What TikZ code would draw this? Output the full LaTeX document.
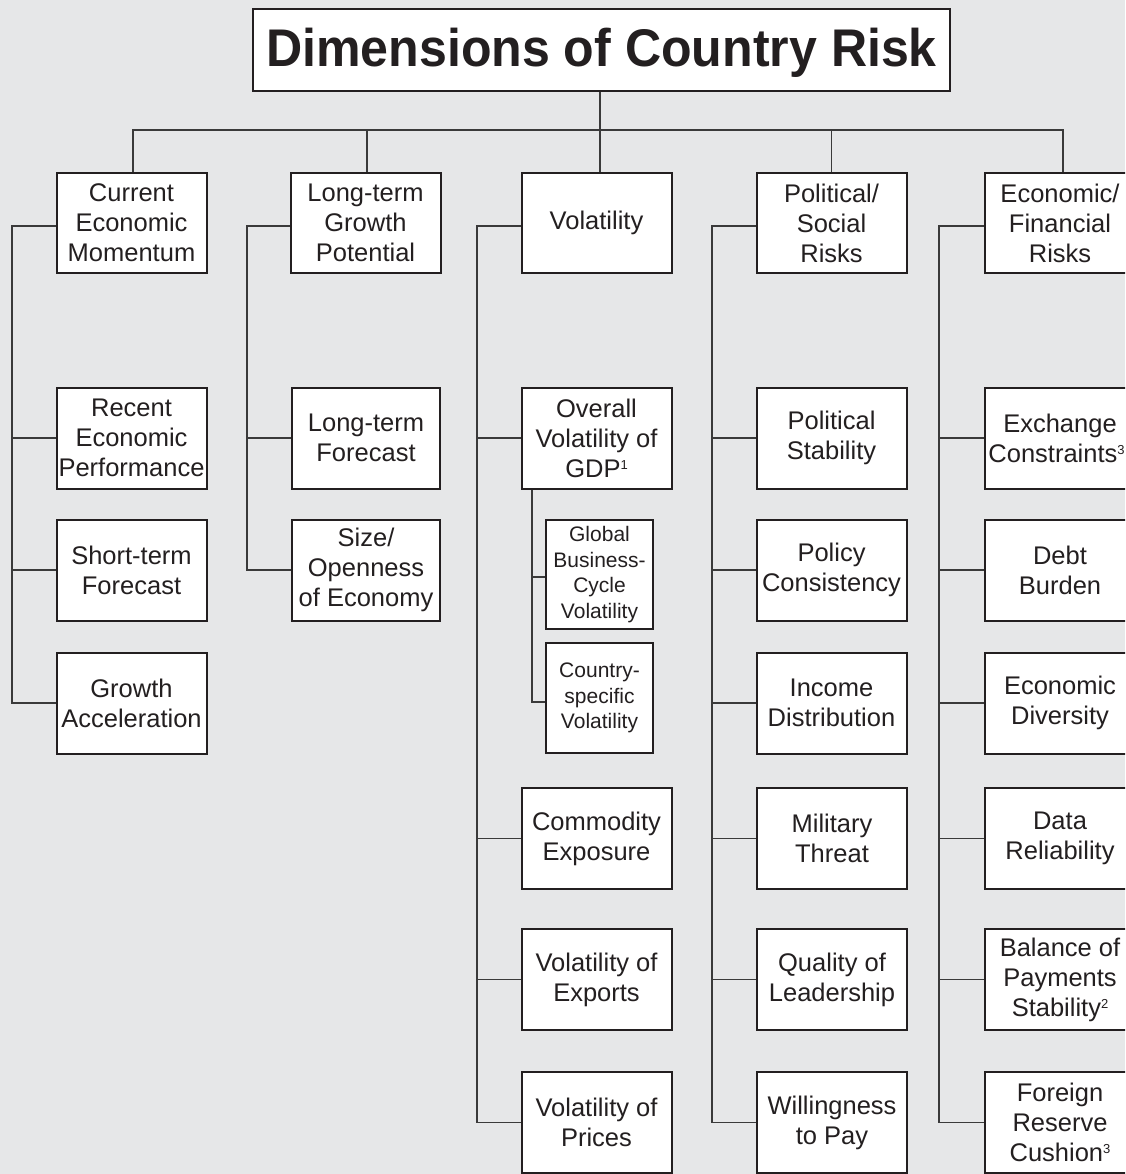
\documentclass[tikz,border=0pt]{standalone}
\usepackage{fontspec}
\setmainfont{Liberation Sans}
\newfontfamily\titlefont[FakeStretch=0.945]{Liberation Sans Bold}
\definecolor{bg}{HTML}{E6E7E8}
\definecolor{ink}{HTML}{231F20}
\definecolor{lnk}{HTML}{3A3A3A}
\newcommand\supn[1]{\raisebox{8pt}{\fontsize{13}{13}\selectfont #1}}
\tikzset{
  cbox/.style={draw=ink, line width=2pt, fill=white, minimum width=150pt, minimum height=101pt,
    align=center, inner sep=0pt, text=ink, font=\fontsize{25.5}{30}\selectfont},
  sbox/.style={cbox, minimum width=107pt, font=\fontsize{21}{25.5}\selectfont},
  titlebox/.style={draw=ink, line width=2.5pt, fill=white, minimum width=697pt, minimum height=82pt,
    inner sep=0pt, text height=39pt, text depth=5pt, text=ink, font=\titlefont\fontsize{53}{60}\selectfont},
  conn/.style={draw=lnk, line width=1.3pt}
}
\begin{document}
\begin{tikzpicture}[x=1pt,y=-1pt]
\fill[bg] (0,0) rectangle (1125,1174);
\useasboundingbox (0,0) rectangle (1125,1174);
\clip (0,0) rectangle (1125,1174);
% spine coordinates
\coordinate (bus) at (600,130);
\coordinate (s1) at (12,0);
\coordinate (s2) at (247,0);
\coordinate (s3) at (477,0);
\coordinate (s3b) at (532,0);
\coordinate (s4) at (712,0);
\coordinate (s5) at (939,0);
% title
\node[titlebox] (title) at (601.5,50) {Dimensions of Country Risk};
% level 1
\node[cbox, minimum height=100pt] (cur) at (131.5,223) {Current\\Economic\\Momentum};
\node[cbox, minimum height=100pt] (ltg) at (365.5,223) {Long-term\\Growth\\Potential};
\node[cbox, minimum height=100pt] (vol) at (596.5,223) {Volatility};
\node[cbox, minimum height=100pt] (pol) at (831.5,223) {Political/\\Social\\Risks};
\node[cbox, minimum height=100pt] (eco) at (1060,223) {Economic/\\Financial\\Risks};
% column 1
\node[cbox] (rep) at (131.5,438) {Recent\\Economic\\Performance};
\node[cbox] (stf) at (131.5,570) {Short-term\\Forecast};
\node[cbox] (gra) at (131.5,703) {Growth\\Acceleration};
% column 2
\node[cbox, minimum width=148pt] (ltf) at (366,438) {Long-term\\Forecast};
\node[cbox, minimum width=148pt] (soe) at (366,570) {Size/\\Openness\\of Economy};
% column 3
\node[cbox] (ovg) at (596.5,438) {Overall\\Volatility of\\GDP\supn{1}};
\node[sbox, minimum height=109pt] (gbc) at (599.5,574.5) {Global\\Business-\\Cycle\\Volatility};
\node[sbox, minimum height=110pt] (csv) at (599.5,698) {Country-\\specific\\Volatility};
\node[cbox] (com) at (596.5,838.5) {Commodity\\Exposure};
\node[cbox] (voe) at (596.5,979.5) {Volatility of\\Exports};
\node[cbox] (vop) at (596.5,1122.5) {Volatility of\\Prices};
% column 4
\node[cbox] (pst) at (831.5,438) {Political\\Stability};
\node[cbox] (pcs) at (831.5,570) {Policy\\Consistency};
\node[cbox] (inc) at (831.5,703) {Income\\Distribution};
\node[cbox] (mil) at (832,838.5) {Military\\Threat};
\node[cbox] (qol) at (832,979.5) {Quality of\\Leadership};
\node[cbox] (wtp) at (832,1122.5) {Willingness\\to Pay};
% column 5
\node[cbox] (exc) at (1060,438) {Exchange\\\hspace*{-7pt}Constraints\supn{3}};
\node[cbox] (dbt) at (1060,570) {Debt\\Burden};
\node[cbox] (edv) at (1060,703) {Economic\\Diversity};
\node[cbox] (dat) at (1060,838.5) {Data\\Reliability};
\node[cbox] (bop) at (1060,979.5) {Balance of\\Payments\\Stability\supn{2}};
\node[cbox] (frc) at (1060,1122.5) {Foreign\\Reserve\\Cushion\supn{3}};
% top bus
\draw[conn] (title.south -| bus) -- (vol.north -| bus);
\draw[conn] ([xshift=1.5pt]cur.north) |- ([xshift=3pt]eco.north |- bus) -- ([xshift=3pt]eco.north);
\draw[conn] ([xshift=1.5pt]ltg.north) -- ([xshift=1.5pt]ltg.north |- bus);
\draw[conn] (pol.north) -- (pol.north |- bus);
% column 1
\draw[conn] ([yshift=-3pt]cur.west) -- ([yshift=-3pt]cur.west -| s1) |- (gra.west);
\draw[conn] (rep.west) -- (rep.west -| s1);
\draw[conn] (stf.west) -- (stf.west -| s1);
% column 2
\draw[conn] ([yshift=-3pt]ltg.west) -- ([yshift=-3pt]ltg.west -| s2) |- (soe.west);
\draw[conn] (ltf.west) -- (ltf.west -| s2);
% column 3
\draw[conn] ([yshift=-3pt]vol.west) -- ([yshift=-3pt]vol.west -| s3) |- (vop.west);
\draw[conn] (ovg.west) -- (ovg.west -| s3);
\draw[conn] (com.west) -- (com.west -| s3);
\draw[conn] (voe.west) -- (voe.west -| s3);
\draw[conn] (ovg.south -| s3b) |- ([yshift=-4pt]csv.west);
\draw[conn] ([yshift=-2.5pt]gbc.west) -- ([yshift=-2.5pt]gbc.west -| s3b);
% column 4
\draw[conn] ([yshift=-3pt]pol.west) -- ([yshift=-3pt]pol.west -| s4) |- (wtp.west);
\draw[conn] (pst.west) -- (pst.west -| s4);
\draw[conn] (pcs.west) -- (pcs.west -| s4);
\draw[conn] (inc.west) -- (inc.west -| s4);
\draw[conn] (mil.west) -- (mil.west -| s4);
\draw[conn] (qol.west) -- (qol.west -| s4);
% column 5
\draw[conn] ([yshift=-3pt]eco.west) -- ([yshift=-3pt]eco.west -| s5) |- (frc.west);
\draw[conn] (exc.west) -- (exc.west -| s5);
\draw[conn] (dbt.west) -- (dbt.west -| s5);
\draw[conn] (edv.west) -- (edv.west -| s5);
\draw[conn] (dat.west) -- (dat.west -| s5);
\draw[conn] (bop.west) -- (bop.west -| s5);
\end{tikzpicture}
\end{document}
